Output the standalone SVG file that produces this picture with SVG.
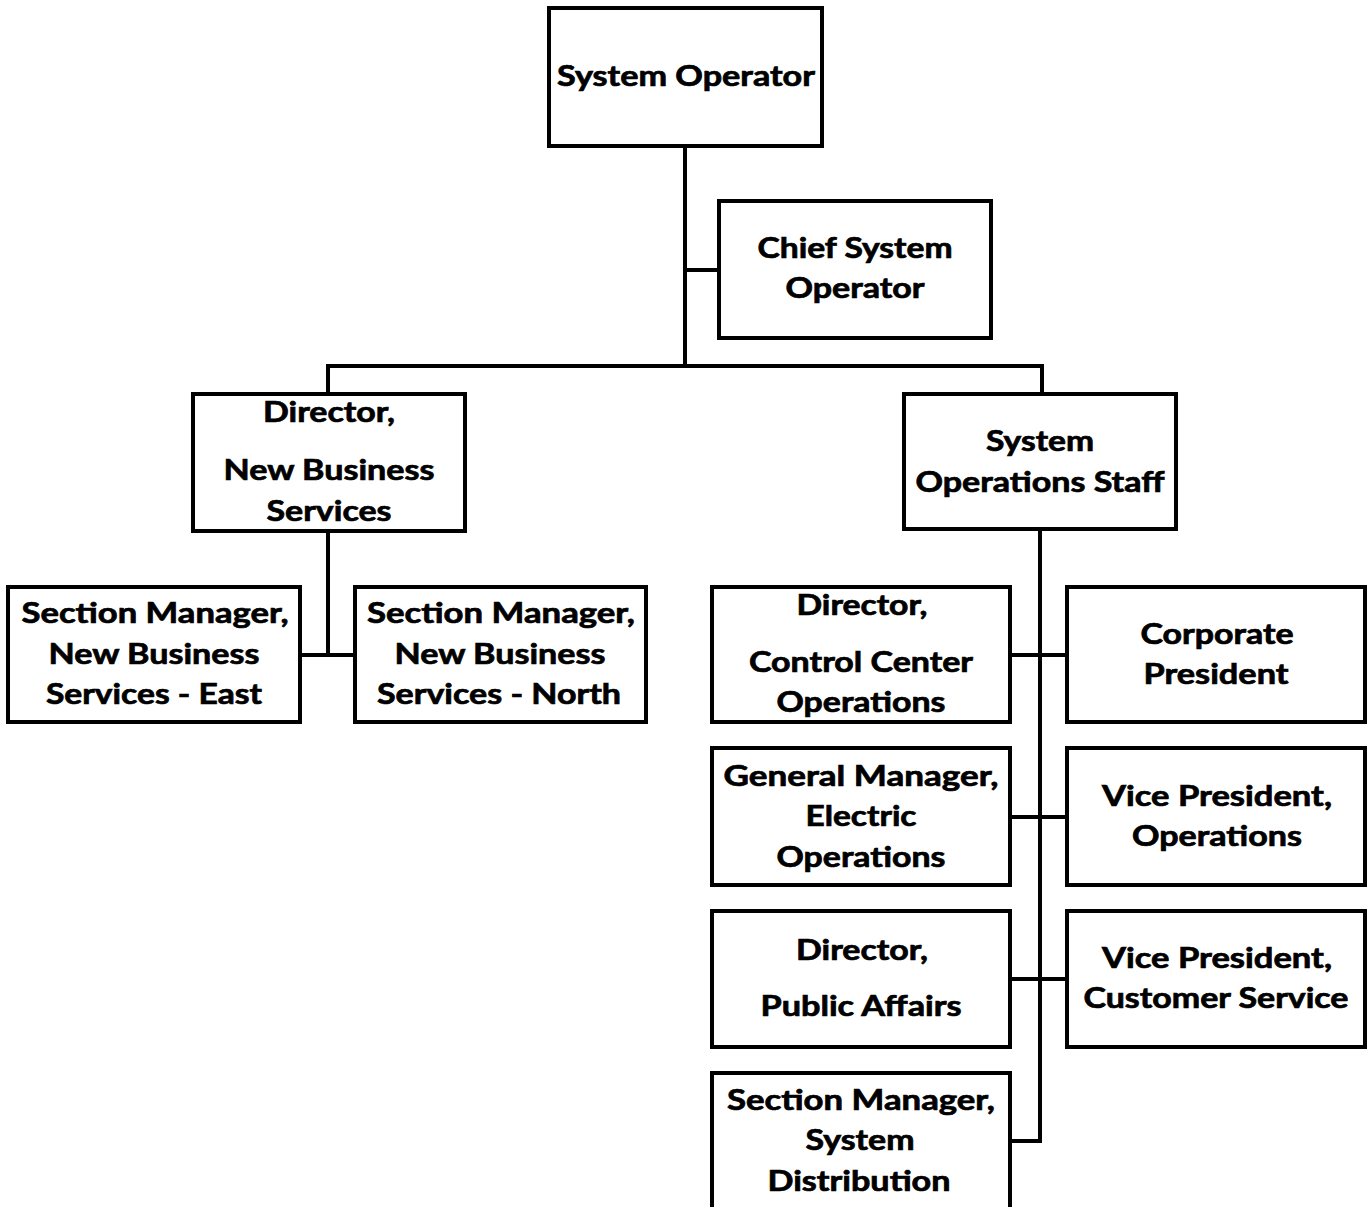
<svg xmlns="http://www.w3.org/2000/svg" width="1371" height="1207" viewBox="0 0 1371 1207">
  <style>
    .box { fill: #ffffff; stroke: #000000; stroke-width: 4; }
    .wire { fill: none; stroke: #000000; stroke-width: 4; }
    .lbl { font-family: "Lato", "Liberation Sans", sans-serif; font-weight: bold; font-size: 28px; fill: #000000; stroke: #000000; stroke-width: 0.7; text-anchor: middle; }
  </style>
  <rect width="1371" height="1207" fill="#ffffff"/>

  <g id="connectors">
    <path class="wire" d="M685 146 V366"/>
    <path class="wire" d="M685 270 H719"/>
    <path class="wire" d="M326 366 H1044"/>
    <path class="wire" d="M328 366 V394"/>
    <path class="wire" d="M1042 366 V394"/>
    <path class="wire" d="M328 531 V655"/>
    <path class="wire" d="M300 655 H355"/>
    <path class="wire" d="M1040 529 V1141"/>
    <path class="wire" d="M1010 655 H1067"/>
    <path class="wire" d="M1010 817 H1067"/>
    <path class="wire" d="M1010 979 H1067"/>
    <path class="wire" d="M1010 1141 H1042"/>
  </g>

  <g id="system-operator">
    <rect class="box" x="549" y="8" width="273" height="138"/>
    <text class="lbl" x="686" y="86" textLength="258" lengthAdjust="spacingAndGlyphs">System Operator</text>
  </g>

  <g id="chief-system-operator">
    <rect class="box" x="719" y="201" width="272" height="137"/>
    <text class="lbl" x="855" y="258" textLength="195" lengthAdjust="spacingAndGlyphs">Chief System</text>
    <text class="lbl" x="855" y="298" textLength="139" lengthAdjust="spacingAndGlyphs">Operator</text>
  </g>

  <g id="director-new-business">
    <rect class="box" x="193" y="394" width="272" height="137"/>
    <text class="lbl" x="329" y="422" textLength="132" lengthAdjust="spacingAndGlyphs">Director,</text>
    <text class="lbl" x="329" y="480" textLength="211" lengthAdjust="spacingAndGlyphs">New Business</text>
    <text class="lbl" x="329" y="521" textLength="125" lengthAdjust="spacingAndGlyphs">Services</text>
  </g>

  <g id="section-manager-east">
    <rect class="box" x="8" y="587" width="292" height="135"/>
    <text class="lbl" x="155" y="623" textLength="267" lengthAdjust="spacingAndGlyphs">Section Manager,</text>
    <text class="lbl" x="154" y="664" textLength="211" lengthAdjust="spacingAndGlyphs">New Business</text>
    <text class="lbl" x="154" y="704" textLength="216" lengthAdjust="spacingAndGlyphs">Services - East</text>
  </g>

  <g id="section-manager-north">
    <rect class="box" x="355" y="587" width="291" height="135"/>
    <text class="lbl" x="501" y="623" textLength="268" lengthAdjust="spacingAndGlyphs">Section Manager,</text>
    <text class="lbl" x="500" y="664" textLength="211" lengthAdjust="spacingAndGlyphs">New Business</text>
    <text class="lbl" x="499" y="704" textLength="244" lengthAdjust="spacingAndGlyphs">Services - North</text>
  </g>

  <g id="system-operations-staff">
    <rect class="box" x="904" y="394" width="272" height="135"/>
    <text class="lbl" x="1040" y="451" textLength="108" lengthAdjust="spacingAndGlyphs">System</text>
    <text class="lbl" x="1040" y="492" textLength="249" lengthAdjust="spacingAndGlyphs">Operations Staff</text>
  </g>

  <g id="director-control-center">
    <rect class="box" x="712" y="587" width="298" height="135"/>
    <text class="lbl" x="862" y="615" textLength="131" lengthAdjust="spacingAndGlyphs">Director,</text>
    <text class="lbl" x="861" y="672" textLength="224" lengthAdjust="spacingAndGlyphs">Control Center</text>
    <text class="lbl" x="861" y="712" textLength="169" lengthAdjust="spacingAndGlyphs">Operations</text>
  </g>

  <g id="corporate-president">
    <rect class="box" x="1067" y="587" width="298" height="135"/>
    <text class="lbl" x="1217" y="644" textLength="153" lengthAdjust="spacingAndGlyphs">Corporate</text>
    <text class="lbl" x="1216" y="684" textLength="145" lengthAdjust="spacingAndGlyphs">President</text>
  </g>

  <g id="general-manager-electric">
    <rect class="box" x="712" y="748" width="298" height="137"/>
    <text class="lbl" x="861" y="786" textLength="275" lengthAdjust="spacingAndGlyphs">General Manager,</text>
    <text class="lbl" x="861" y="826" textLength="111" lengthAdjust="spacingAndGlyphs">Electric</text>
    <text class="lbl" x="861" y="867" textLength="169" lengthAdjust="spacingAndGlyphs">Operations</text>
  </g>

  <g id="vp-operations">
    <rect class="box" x="1067" y="748" width="298" height="137"/>
    <text class="lbl" x="1217" y="806" textLength="230" lengthAdjust="spacingAndGlyphs">Vice President,</text>
    <text class="lbl" x="1217" y="846" textLength="170" lengthAdjust="spacingAndGlyphs">Operations</text>
  </g>

  <g id="director-public-affairs">
    <rect class="box" x="712" y="911" width="298" height="136"/>
    <text class="lbl" x="862" y="960" textLength="132" lengthAdjust="spacingAndGlyphs">Director,</text>
    <text class="lbl" x="861" y="1016" textLength="201" lengthAdjust="spacingAndGlyphs">Public Affairs</text>
  </g>

  <g id="vp-customer-service">
    <rect class="box" x="1067" y="911" width="298" height="136"/>
    <text class="lbl" x="1217" y="968" textLength="230" lengthAdjust="spacingAndGlyphs">Vice President,</text>
    <text class="lbl" x="1216" y="1008" textLength="265" lengthAdjust="spacingAndGlyphs">Customer Service</text>
  </g>

  <g id="section-manager-distribution">
    <rect class="box" x="712" y="1073" width="298" height="140"/>
    <text class="lbl" x="861" y="1110" textLength="268" lengthAdjust="spacingAndGlyphs">Section Manager,</text>
    <text class="lbl" x="860" y="1150" textLength="109" lengthAdjust="spacingAndGlyphs">System</text>
    <text class="lbl" x="859" y="1191" textLength="183" lengthAdjust="spacingAndGlyphs">Distribution</text>
  </g>
</svg>
